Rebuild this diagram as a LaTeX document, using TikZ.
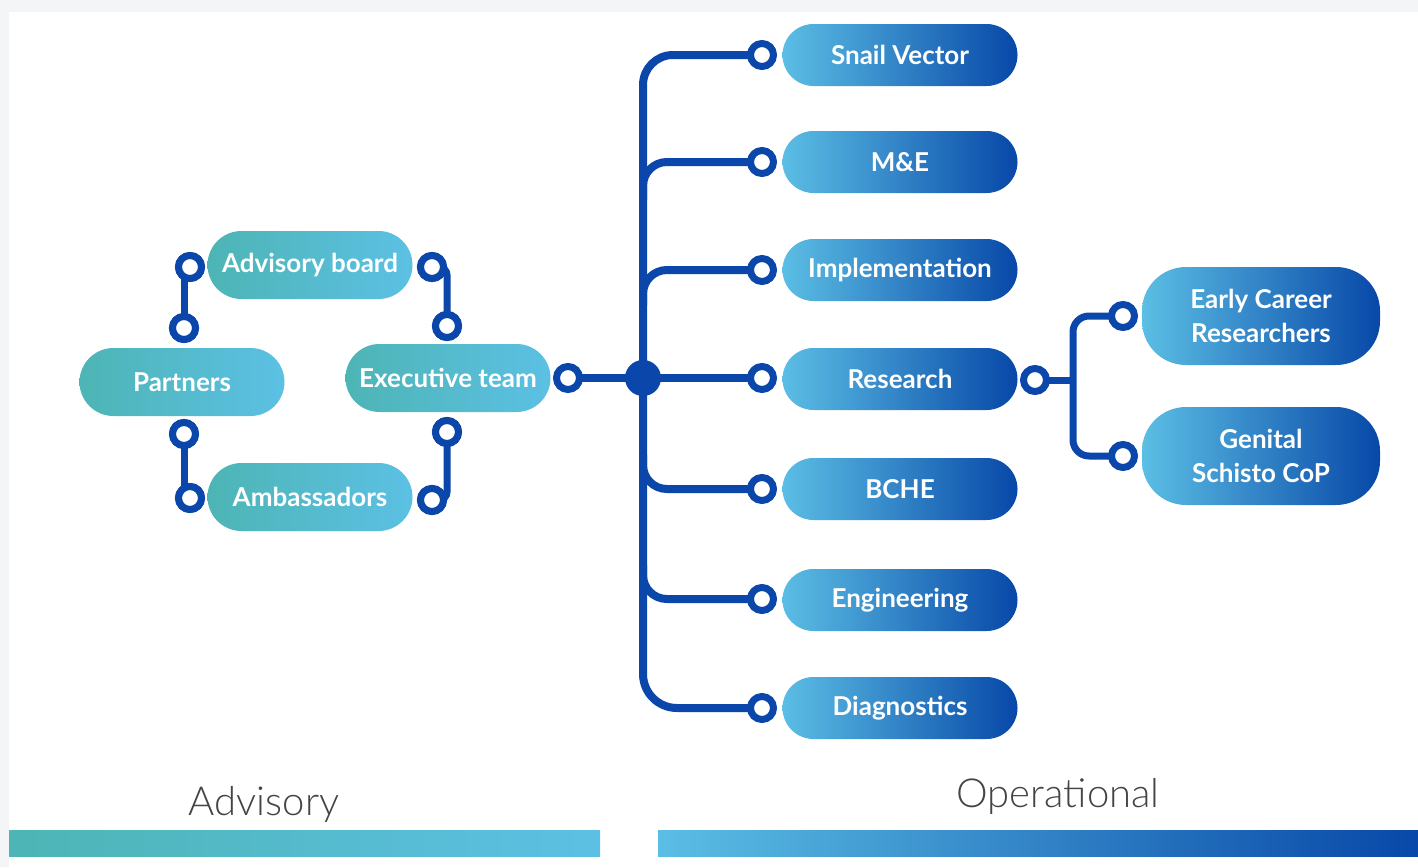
\documentclass[tikz,border=0pt]{standalone}
\usepackage{fontspec}
\setmainfont{Lato}
\newfontfamily\lightfont{Lato Light}
\usetikzlibrary{calc}
\definecolor{bggray}{HTML}{F4F5F7}
\definecolor{tealL}{HTML}{4DB5B5}
\definecolor{tealR}{HTML}{5CC0E4}
\definecolor{opL}{HTML}{5BBEE4}
\definecolor{opR}{HTML}{0848A8}
\definecolor{lineblue}{HTML}{0B46AB}
\definecolor{labelgray}{HTML}{444444}
\tikzset{
  pilltext/.style={text=white, font=\bfseries\fontsize{13}{17}\selectfont, inner sep=0pt, align=center},
  advpill/.style={pilltext, rectangle, rounded corners=17pt, minimum width=102.5pt, minimum height=34pt, left color=tealL, right color=tealR},
  oppill/.style={pilltext, rectangle, rounded corners=15.5pt, minimum width=117.5pt, minimum height=31pt, left color=opL, right color=opR},
  subpill/.style={pilltext, rectangle, rounded corners=22pt, minimum width=119pt, minimum height=49pt, left color=opL, right color=opR},
  ring/.style={circle, draw=lineblue, line width=3.5pt, fill=white, minimum size=11.5pt, inner sep=0pt},
  hubdot/.style={circle, fill=lineblue, minimum size=18pt, inner sep=0pt},
  conn/.style={draw=lineblue, line width=3.5pt},
  trunkline/.style={draw=lineblue, line width=4pt},
  seclabel/.style={anchor=base, text=labelgray, font=\lightfont\fontsize{20}{24}\selectfont}
}
\begin{document}
\begin{tikzpicture}[x=0.5pt,y=-0.5pt]
\useasboundingbox (0,0) rectangle (1418,867);
\fill[bggray] (0,0) rectangle (1418,867);
\fill[white] (9,12) rectangle (1418,867);

% coordinates
\coordinate (tme) at (643,200);
\coordinate (tim) at (643,305);
\coordinate (tbc) at (643,455);
\coordinate (ten) at (643,565);
\coordinate (j) at (1073,380);

% rings (defined first for connector coordinates; redrawn on top)
\path
 (190,267) node[ring] (r1) {}
 (184,328) node[ring] (r2) {}
 (432,267) node[ring] (r3) {}
 (447,326) node[ring] (r4) {}
 (184,434) node[ring] (r5) {}
 (190,498) node[ring] (r6) {}
 (447,432) node[ring] (r7) {}
 (432,500) node[ring] (r8) {};

% connectors
\draw[conn] (r2.center |- r1.center) -- (r2.center);
\draw[conn, rounded corners=4pt] (r3.center) -| (r4.center);
\draw[conn] (r5.center) -- (r5.center |- r6.center);
\draw[conn, rounded corners=4pt] (r7.center) |- (r8.center);

\coordinate (hubc) at (643,378);
\coordinate (rexc) at (568,378);
\coordinate (rsvc) at (762,55);
\coordinate (rmec) at (762,162);
\coordinate (rimc) at (762,270);
\coordinate (rrsc) at (762,378);
\coordinate (rbcc) at (762,489);
\coordinate (renc) at (762,599);
\coordinate (rdic) at (762,708);
\coordinate (rresc) at (1035,380);
\coordinate (recrc) at (1123,316);
\coordinate (rgscc) at (1123,456);

\draw[trunkline, rounded corners=15pt] (hubc) |- (rsvc);
\draw[trunkline, rounded corners=17pt] (hubc) |- (rdic);
\draw[trunkline, rounded corners=12pt] (tme) |- (rmec);
\draw[trunkline, rounded corners=12pt] (tim) |- (rimc);
\draw[trunkline, rounded corners=12pt] (tbc) |- (rbcc);
\draw[trunkline, rounded corners=12pt] (ten) |- (renc);
\draw[trunkline] (rexc) -- (rrsc);
\draw[conn] (rresc) -- (j);
\draw[conn, rounded corners=8pt] (j) |- (recrc);
\draw[conn, rounded corners=8pt] (j) |- (rgscc);

% pills
\node[advpill] (ab) at (310,265) {Advisory board};
\node[advpill] (pa) at (182,382) {Partners};
\node[advpill] (ex) at (448,378) {Executive team};
\node[advpill] (am) at (310,497) {Ambassadors};

\node[oppill] (sv) at (900,55) {Snail Vector};
\node[oppill] (me) at (900,162) {M\&E};
\node[oppill] (im) at (900,270) {Implementation};
\node[oppill] (rs) at (900,379) {Research};
\node[oppill] (bc) at (900,489) {BCHE};
\node[oppill] (en) at (900,600) {Engineering};
\node[oppill] (di) at (900,708) {Diagnostics};

\node[subpill] (ecr) at (1261,316) {Early Career\\Researchers};
\node[subpill] (gsc) at (1261,456) {Genital\\Schisto CoP};

% rings on top
\node[ring] at (r1) {};
\node[ring] at (r2) {};
\node[ring] at (r3) {};
\node[ring] at (r4) {};
\node[ring] at (r5) {};
\node[ring] at (r6) {};
\node[ring] at (r7) {};
\node[ring] at (r8) {};
\node[ring] (rex) at (rexc) {};
\node[hubdot] (hub) at (hubc) {};
\node[ring] (rsv) at (rsvc) {};
\node[ring] (rme) at (rmec) {};
\node[ring] (rim) at (rimc) {};
\node[ring] (rrs) at (rrsc) {};
\node[ring] (rbc) at (rbcc) {};
\node[ring] (ren) at (renc) {};
\node[ring] (rdi) at (rdic) {};
\node[ring] (rres) at (rresc) {};
\node[ring] (recr) at (recrc) {};
\node[ring] (rgsc) at (rgscc) {};

% bottom bars and labels
\shade[left color=tealL, right color=tealR] (9,830) rectangle (600,856);
\shade[left color=opL, right color=opR] (658,830) rectangle (1418,856);
\node[seclabel] (advlab) at (264,815) {Advisory};
\node[seclabel] (oplab) at (1058,807) {Operational};
\end{tikzpicture}
\end{document}
